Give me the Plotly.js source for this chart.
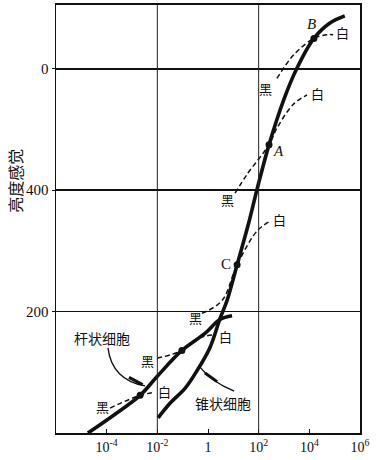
<!DOCTYPE html>
<html><head><meta charset="utf-8">
<script src="https://cdn.plot.ly/plotly-3.0.1.min.js"></script>
<style>html,body{margin:0;padding:0;background:#fff}#chart{width:376px;height:460px}</style>
</head><body><div id="chart"></div>
<script>
// Luminance (log axis) and brightness-sensation values
var coneX = [1.07e-2, 3.16e-2, 0.126, 0.372, 1.20, 2.95, 5.62, 14.1, 39.8, 87.1, 257, 1000, 3160, 15100, 63100, 251000];
var coneY = [25, 49, 74, 103, 141, 188, 218, 277, 345, 402, 475, 550, 600, 650, 675, 687];
var rodX = [1.82e-5, 2.14e-4, 2.09e-3, 9.77e-3, 9.33e-2, 0.759, 2.95, 8.91];
var rodY = [0, 31, 62, 93, 136, 164, 187, 193];
var dashLowX = [1.35e-4, 2.09e-3, 8.13e-3];
var dashLowY = [41, 62, 67];
var dashMidX = [9.77e-3, 9.33e-2, 0.407, 1.91];
var dashMidY = [123, 136, 156, 162];
var dashCX = [0.575, 3.55, 14.1, 87.1, 282];
var dashCY = [197, 218, 277, 333, 349];
var dashAX = [11.7, 34.7, 257, 525, 2290, 8130];
var dashAY = [395, 426, 475, 502, 541, 557];
var dashBX = [525, 1740, 4270, 15100, 50100, 87100];
var dashBY = [584, 616, 633, 650, 656, 656];
var dotX = [15100, 257, 14.1, 9.33e-2, 2.09e-3];
var dotY = [650, 475, 277, 136, 62];
var xTickVals = [1e-4, 1e-2, 1, 1e2, 1e4, 1e6];
var xTickText = ['10<sup>-4</sup>', '10<sup>-2</sup>', '1', '10<sup>2</sup>', '10<sup>4</sup>', '10<sup>6</sup>'];
var yTickVals = [200, 400, 600];
var yTickText = ['200', '400', '0'];
var xGridVals = [1e-2, 1e2];

var solid = {color: '#111', width: 3.6, shape: 'spline', smoothing: 1};
var dashed = {color: '#111', width: 1.5, dash: '5px,3px', shape: 'spline', smoothing: 1};
function tr(x, y, line) { return {x: x, y: y, mode: 'lines', line: line, hoverinfo: 'skip', showlegend: false}; }
var data = [
  tr(coneX, coneY, solid), tr(rodX, rodY, solid),
  tr(dashLowX, dashLowY, dashed), tr(dashMidX, dashMidY, dashed),
  tr(dashCX, dashCY, dashed), tr(dashAX, dashAY, dashed), tr(dashBX, dashBY, dashed),
  {x: dotX, y: dotY, mode: 'markers', marker: {color: '#111', size: 7}, showlegend: false, hoverinfo: 'skip'}
];

var serif = 'Liberation Serif, DejaVu Serif, serif';
var cjk = 'Noto Sans CJK SC';
var shapes = xGridVals.map(function (v) {
  return {type: 'line', xref: 'x', yref: 'paper', x0: v, x1: v, y0: 0, y1: 1, line: {color: '#222', width: 1}};
});
// curved pointer lines (paper coordinates)
shapes.push({type: 'path', xref: 'paper', yref: 'paper', path: 'M 0.171 0.199 Q 0.184 0.124 0.293 0.110', line: {color: '#111', width: 1.3}});
shapes.push({type: 'path', xref: 'paper', yref: 'paper', path: 'M 0.240 0.130 L 0.285 0.113', line: {color: '#111', width: 3}});
shapes.push({type: 'path', xref: 'paper', yref: 'paper', path: 'M 0.470 0.157 Q 0.510 0.120 0.586 0.098', line: {color: '#111', width: 1.3}});
shapes.push({type: 'path', xref: 'paper', yref: 'paper', path: 'M 0.490 0.140 L 0.530 0.120', line: {color: '#111', width: 3}});

function lab(t, lx, y, f, sz) {
  return {text: t, x: lx, y: y, xref: 'x', yref: 'y', xanchor: 'center', yanchor: 'middle', showarrow: false,
    font: {family: f || cjk, size: sz || 13, color: '#111'}};
}
var annotations = [
  lab('黑', -4.18, 43), lab('白', -1.70, 69),
  lab('黑', -2.37, 120), lab('白', 0.71, 159),
  lab('黑', -0.51, 190), lab('白', 2.84, 351),
  lab('黑', 0.75, 385), lab('白', 4.34, 559),
  lab('黑', 2.25, 567), lab('白', 5.29, 659),
  lab('<i>A</i>', 2.78, 464, serif, 15), lab('<i>B</i>', 4.1, 674, serif, 15), lab('C', 0.73, 279, serif, 15),
  lab('杆状细胞', -4.18, 157, cjk, 14), lab('锥状细胞', 0.6, 49, cjk, 14),
  {text: '亮度感觉', xref: 'paper', yref: 'paper', x: -0.135, y: 0.589, xanchor: 'center', yanchor: 'middle',
   showarrow: false, textangle: -90, font: {family: cjk, size: 16, color: '#111'}}
];

var layout = {
  width: 376, height: 460,
  margin: {l: 56, r: 16, t: 5, b: 27},
  paper_bgcolor: '#fff', plot_bgcolor: '#fff',
  xaxis: {type: 'log', range: [-6, 6], tickvals: xTickVals, ticktext: xTickText,
    ticks: 'inside', ticklen: 4, tickcolor: '#111', showgrid: false, zeroline: false,
    showline: true, linecolor: '#111', linewidth: 2, mirror: true,
    tickfont: {family: serif, size: 14, color: '#111'}},
  yaxis: {range: [0, 705], tickvals: yTickVals, ticktext: yTickText,
    ticks: 'outside', ticklen: 3, tickcolor: '#111', showgrid: true, gridcolor: '#111', gridwidth: 1.6,
    zeroline: false, showline: true, linecolor: '#111', linewidth: 1.5, mirror: true,
    tickfont: {family: serif, size: 15, color: '#111'}},
  shapes: shapes, annotations: annotations
};
Plotly.newPlot('chart', data, layout, {staticPlot: true});
</script></body></html>
